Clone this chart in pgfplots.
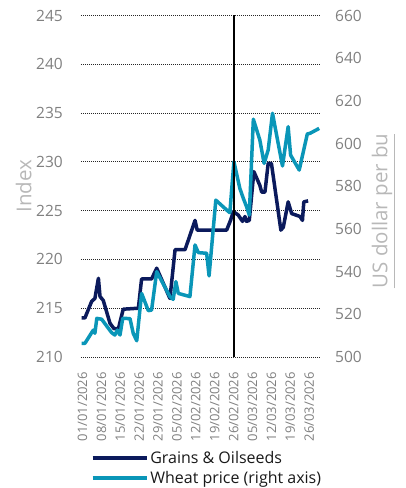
\documentclass[border=0pt]{standalone}
\usepackage{fontspec}
\setmainfont{Open Sans}
\usepackage{pgfplots}
\pgfplotsset{compat=1.18}
\definecolor{navy}{HTML}{0B1A5C}
\definecolor{teal2}{HTML}{0A96B8}
\definecolor{tickgray}{HTML}{808080}
\definecolor{labgray}{HTML}{B8B8B8}
\begin{document}
\begin{tikzpicture}
\pgfplotsset{
  base/.style={
    scale only axis, width=239bp, height=341.5bp,
    xmin=-0.55, xmax=88,
    axis line style={draw=none},
    major tick length=0pt,
    /pgf/number format/assume math mode=true,
    tick label style={font=\fontsize{15.5bp}{18bp}\selectfont, text=tickgray, inner sep=0pt},
  }
}
\begin{axis}[base,
  ymin=210, ymax=245, ytick={210,215,...,245},
  ymajorgrids, major grid style={black!85, line width=0.9bp, dash pattern=on 0.9bp off 1.1bp},
  yticklabel shift=18bp,
  xtick={0,7,...,84},
  xticklabels={01/01/2026,08/01/2026,15/01/2026,22/01/2026,29/01/2026,05/02/2026,12/02/2026,19/02/2026,26/02/2026,05/03/2026,12/03/2026,19/03/2026,26/03/2026},
  xticklabel style={rotate=90, anchor=east, font=\fontsize{13bp}{15bp}\selectfont},
  xticklabel shift=15bp,
  ylabel={Index},
  ylabel style={at={(axis description cs:-0.24,0.5)}, anchor=center, font=\fontsize{20.5bp}{24bp}\selectfont, text=labgray},
  legend style={at={(axis description cs:0.04,-0.27)}, anchor=north west, draw=none, fill=none, font=\fontsize{16bp}{19bp}\selectfont, text=black!90, row sep=2bp, inner sep=0pt},
  legend cell align=left,
  legend image code/.code={\draw[#1, line width=3.5bp] (0bp,0bp) -- (54bp,0bp);},
]
\coordinate (bl) at (rel axis cs:0,0);
\coordinate (tr) at (rel axis cs:1,1);
\addplot[navy, line width=3.5bp, line join=round] coordinates {
(-0.3,214) (0.9,214) (3.4,215.7) (4.6,216) (5.9,218.07) (6.5,216.2) (7.7,215.8)
(10.2,213.45) (11.7,212.9) (13.3,212.9) (15.1,214.9) (20.7,215) (21.9,218)
(25.6,218) (27.5,219.1) (32.4,216) (34.3,221) (38,221) (41.7,224) (42.5,223)
(53.4,223) (54.9,224.04) (55.9,224.9) (57.7,224.55) (59.3,223.9) (60.2,224.4)
(60.8,223.9) (61.8,224) (63.5,229) (65.7,227.6) (66.4,226.9) (67.6,226.9)
(68.8,229.85) (70,229.85) (73.5,223) (74.4,223.3) (76.2,225.9) (77.5,224.7)
(80.6,224.4) (81.5,224) (82,225.9) (83.6,226)
};
\addlegendentry{Grains \& Oilseeds}
\addlegendimage{teal2, line width=3.5bp}
\addlegendentry{Wheat price (right axis)}
\end{axis}
\begin{axis}[base,
  axis y line*=right, hide x axis,
  ymin=500, ymax=660, ytick={500,520,...,660},
  yticklabel shift=15bp,
  yticklabel style={anchor=west},
  ylabel={\underline{US dollar per bu}},
  ylabel style={at={(axis description cs:1.264,0.4275)}, anchor=center, rotate=0, font=\fontsize{20.5bp}{24bp}\selectfont, text=labgray},
]
\addplot[teal2, line width=3.5bp, line join=round] coordinates {
(-0.3,506.4) (0.9,506.4) (4,512.6) (4.6,511.1) (5.3,518.1) (7.1,517.7) (10.8,511.4)
(12,510.3) (12.9,512.6) (13.9,510.3) (14.9,518.1) (17.6,518) (18.8,511.1)
(20.1,507.6) (21.9,529.8) (24.4,521.7) (25.6,522) (27.5,540) (32.4,528.3)
(33.6,527) (34.6,535.3) (35.5,529.8) (39.8,528.3) (41.7,552.5) (42.9,548.9)
(46,548.6) (46.9,538) (49.4,573.5) (53.4,568.9) (54.6,567.6) (56.1,591.5)
(58.3,579) (59.6,574.3) (60.8,570.4) (61.8,566.5) (63.3,611.4) (65.7,601.7)
(67.3,590.7) (68.8,597) (70.4,614.2) (72.5,600.1) (74.1,589.5) (76.2,607.9)
(77.1,594.6) (80.3,587.6) (83.3,604.5) (84.3,604.8) (87.7,607.1)
};
\addplot[black, line width=1.8bp, forget plot] coordinates {(56,500) (56,660)};
\end{axis}
\pgfresetboundingbox
\path ([shift={(-81bp,-131bp)}]bl) rectangle ([shift={(86bp,15.5bp)}]tr);
\end{tikzpicture}
\end{document}
